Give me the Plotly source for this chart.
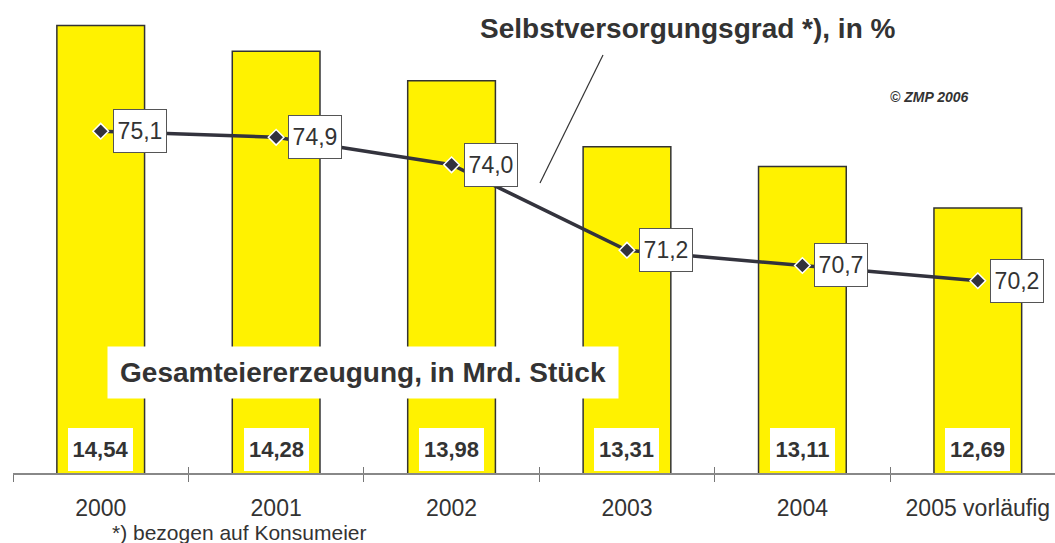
import plotly.graph_objects as go

years = ["2000", "2001", "2002", "2003", "2004", "2005 vorläufig"]
production = [14.54, 14.28, 13.98, 13.31, 13.11, 12.69]
production_labels = ["14,54", "14,28", "13,98", "13,31", "13,11", "12,69"]
selfsuff = [75.1, 74.9, 74.0, 71.2, 70.7, 70.2]
selfsuff_labels = ["75,1", "74,9", "74,0", "71,2", "70,7", "70,2"]

W, H = 1055, 543
ML, MR, MT, MB = 13, 0, 0, 70
PW = W - ML - MR
PH = H - MT - MB

def px(x):
    return (x - ML) / PW

def py(y):
    return (PH + MT - y) / PH

TXT = "#333333"
FONT = "Liberation Sans, Arial, sans-serif"

fig = go.Figure()
fig.add_trace(go.Bar(
    x=years, y=production, base=0,
    marker=dict(color="#FFF200", line=dict(color="#333333", width=1.5)),
    xaxis="x", yaxis="y", hoverinfo="skip",
))
fig.add_trace(go.Scatter(
    x=years, y=selfsuff, mode="lines+markers",
    line=dict(color="#33333d", width=3.5),
    marker=dict(symbol="diamond", size=12, color="#33333d",
                line=dict(color="white", width=1.5)),
    xaxis="x2", yaxis="y2", hoverinfo="skip",
))

ann = []
for i, (v, lab) in enumerate(zip(selfsuff, selfsuff_labels)):
    ann.append(dict(x=i, y=v, xref="x2", yref="y2", text=lab, showarrow=False,
                    xanchor="left", yanchor="middle", xshift=12,
                    font=dict(family=FONT, size=23, color=TXT),
                    bgcolor="white", bordercolor="#555555", borderwidth=1,
                    borderpad=2, width=48, height=38))
for i, lab in enumerate(production_labels):
    ann.append(dict(x=i, y=10, xref="x", yref="y", text="<b>" + lab + "</b>",
                    showarrow=False, xanchor="center", yanchor="bottom", yshift=2,
                    font=dict(family=FONT, size=22, color=TXT),
                    bgcolor="white", borderwidth=0, borderpad=0, width=65, height=43))

ann.append(dict(x=px(363), y=py(372), xref="paper", yref="paper",
                text="<b>Gesamteiererzeugung, in Mrd. Stück</b>", showarrow=False,
                xanchor="center", yanchor="middle",
                font=dict(family=FONT, size=28, color=TXT),
                bgcolor="white", borderpad=0, width=510, height=51))
ann.append(dict(x=px(688), y=py(28), xref="paper", yref="paper",
                text="<b>Selbstversorgungsgrad *), in %</b>", showarrow=False,
                xanchor="center", yanchor="middle",
                font=dict(family=FONT, size=28, color=TXT)))
ann.append(dict(x=px(929), y=py(97), xref="paper", yref="paper",
                text="<b><i>© ZMP 2006</i></b>", showarrow=False,
                xanchor="center", yanchor="middle",
                font=dict(family=FONT, size=14, color=TXT)))
ann.append(dict(x=px(110), y=py(532), xref="paper", yref="paper",
                text="*) bezogen auf Konsumeier", showarrow=False,
                xanchor="left", yanchor="middle",
                font=dict(family=FONT, size=21, color=TXT)))

shapes = [dict(type="line", xref="paper", yref="paper",
               x0=px(603), y0=py(55), x1=px(540), y1=py(183),
               line=dict(color="#333333", width=1.2))]

fig.update_layout(
    width=W, height=H,
    margin=dict(l=ML, r=MR, t=MT, b=MB, autoexpand=False),
    paper_bgcolor="white", plot_bgcolor="white",
    showlegend=False, bargap=0.5,
    xaxis=dict(type="category", range=[-0.5, 5.44], tickson="boundaries",
               ticks="outside", ticklen=7, tickcolor="#777777", tickwidth=1,
               showline=True, linecolor="#888888", linewidth=1.5,
               showgrid=False, zeroline=False, automargin=False,
               ticklabelstandoff=14,
               tickfont=dict(family=FONT, size=23, color=TXT)),
    xaxis2=dict(type="category", overlaying="x", anchor="y2", side="bottom",
                range=[-0.5, 5.44], tickson="boundaries",
                ticks="inside", ticklen=6, tickcolor="#777777", tickwidth=1,
                showticklabels=False, showline=False, showgrid=False, zeroline=False),
    yaxis=dict(range=[10, 14.8], visible=False, showgrid=False),
    yaxis2=dict(range=[63.9, 79.4], overlaying="y", anchor="x2",
                visible=False, showgrid=False),
    annotations=ann, shapes=shapes,
)

fig.write_html("out.html", config={"displayModeBar": False, "staticPlot": True},
               post_script="document.body.style.margin='0';document.body.style.padding='0';")
